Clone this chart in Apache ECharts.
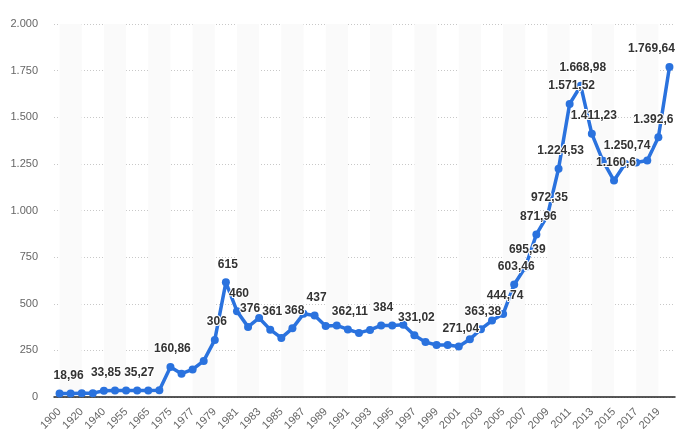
<!DOCTYPE html>
<html>
<head>
<meta charset="utf-8">
<script src="https://cdn.jsdelivr.net/npm/echarts@6/dist/echarts.min.js"></script>
<style>
html,body{margin:0;padding:0;background:#fff;}
#c{width:690px;height:444px;}
</style>
</head>
<body>
<div id="c"></div>
<script>
const years = ['1900','1910','1920','1930','1940','1950','1955','1960','1965','1970',
  '1975','1976','1977','1978','1979','1980','1981','1982','1983','1984','1985','1986','1987','1988','1989',
  '1990','1991','1992','1993','1994','1995','1996','1997','1998','1999','2000','2001','2002','2003','2004',
  '2005','2006','2007','2008','2009','2010','2011','2012','2013','2014','2015','2016','2017','2018','2019','2020'];
const prices = [18.96, 18.92, 20.68, 20.65, 33.85, 34.72, 35.03, 35.27, 35.12, 36.02,
  160.86, 124.74, 147.84, 193.4, 306, 615, 460, 376, 424, 361, 317, 368, 446, 437, 381,
  383.51, 362.11, 343.82, 359.77, 384, 383.79, 387.81, 331.02, 294.24, 278.98, 279.11, 271.04, 309.73, 363.38, 409.72,
  444.74, 603.46, 695.39, 871.96, 972.35, 1224.53, 1571.52, 1668.98, 1411.23, 1266.4, 1160.6, 1250.74, 1257.12, 1268.49, 1392.6, 1769.64];
const labeledYears = ['1900','1940','1960','1975','1979','1980','1981','1982','1984','1986','1988','1991','1994','1997',
  '2001','2003','2005','2006','2007','2008','2009','2010','2011','2012','2013','2015','2016','2019','2020'];
const yTicks = [0, 250, 500, 750, 1000, 1250, 1500, 1750, 2000];

function fmt(v) {
  const s = String(v);
  const parts = s.split('.');
  const intPart = parts[0].replace(/\B(?=(\d{3})+(?!\d))/g, '.');
  return parts.length > 1 ? intPart + ',' + parts[1] : intPart;
}

const labelShift = { '1900': 9, '2019': -5, '2020': -18 };

const seriesData = prices.map((v, i) => {
  const y = years[i];
  const show = labeledYears.indexOf(y) >= 0;
  const dx = (labelShift[y] !== undefined ? labelShift[y] : 2);
  return { value: v, label: { show: show, offset: [dx, 0] } };
});

const chart = echarts.init(document.getElementById('c'), null, { renderer: 'canvas' });
chart.setOption({
  animation: false,
  backgroundColor: '#fff',
  grid: { left: 54, right: 15, top: 24, bottom: 47, containLabel: false },
  xAxis: {
    type: 'category',
    data: years,
    boundaryGap: true,
    axisLine: { show: true, lineStyle: { color: '#222', width: 1.5 } },
    axisTick: { show: false },
    axisLabel: {
      interval: 1, rotate: 45, color: '#666', fontSize: 11,
      fontFamily: 'Liberation Sans, Arial, sans-serif', margin: 13
    },
    splitArea: {
      show: true, interval: 1, alignWithLabel: true,
      areaStyle: { color: ['#fafafa', 'rgba(255,255,255,0)'] }
    }
  },
  yAxis: {
    type: 'value',
    min: yTicks[0], max: yTicks[yTicks.length - 1], interval: 250,
    axisLine: { show: false },
    axisTick: { show: false },
    axisLabel: {
      color: '#666', fontSize: 11, margin: 16,
      fontFamily: 'Liberation Sans, Arial, sans-serif',
      formatter: v => fmt(v)
    },
    splitLine: { show: true, lineStyle: { color: '#c8c8c8', type: [1, 2], width: 1 } }
  },
  series: [{
    type: 'line',
    data: seriesData,
    symbol: 'circle',
    symbolSize: 8,
    showSymbol: true,
    showAllSymbol: true,
    lineStyle: { color: '#2a72de', width: 3.5 },
    itemStyle: { color: '#2a72de' },
    label: {
      position: 'top', distance: 8,
      color: '#333', fontSize: 12, fontWeight: 'bold',
      fontFamily: 'Liberation Sans, Arial, sans-serif',
      textBorderColor: '#fff', textBorderWidth: 2,
      formatter: p => fmt(p.value)
    },
    z: 3
  }]
});
</script>
</body>
</html>
